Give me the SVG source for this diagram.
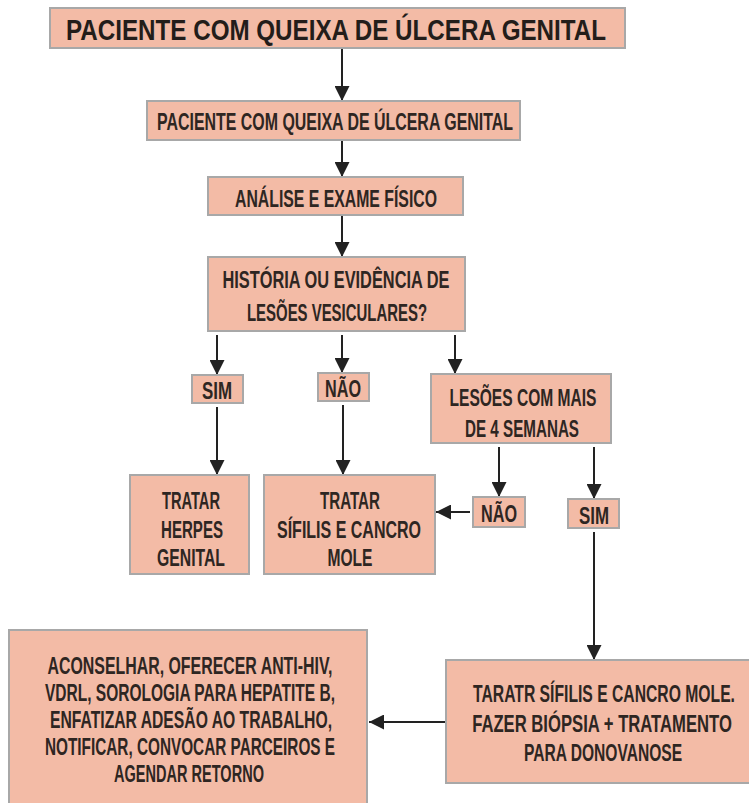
<svg xmlns="http://www.w3.org/2000/svg" width="749" height="803" viewBox="0 0 749 803">
  <defs>
    <marker id="arr" viewBox="0 0 10 10" refX="10" refY="5" markerWidth="8" markerHeight="7.5" markerUnits="strokeWidth" orient="auto">
      <path d="M0,0 L10,5 L0,10 z" fill="#222"/>
    </marker>
    <style>
      .box { fill: #F3BBA6; stroke: #A8A8A8; stroke-width: 2; }
      .t { font-family: "Liberation Sans", Arial, sans-serif; font-size: 24px; font-weight: bold; fill: #2e2622; text-anchor: middle; }
      .title { font-family: "Liberation Sans", Arial, sans-serif; font-size: 29px; font-weight: bold; fill: #231d1a; text-anchor: middle; }
      .edge { stroke: #222; stroke-width: 2; fill: none; marker-end: url(#arr); }
    </style>
  </defs>

  <g id="connectors">
    <line class="edge" x1="342" y1="48" x2="342" y2="101"/>
    <line class="edge" x1="342" y1="140" x2="342" y2="177"/>
    <line class="edge" x1="342" y1="215" x2="342" y2="257"/>
    <line class="edge" x1="217" y1="335" x2="217" y2="375"/>
    <line class="edge" x1="342" y1="335" x2="342" y2="373"/>
    <line class="edge" x1="455" y1="335" x2="455" y2="374"/>
    <line class="edge" x1="217" y1="407" x2="217" y2="475"/>
    <line class="edge" x1="343" y1="405" x2="343" y2="475"/>
    <line class="edge" x1="499" y1="447" x2="499" y2="497"/>
    <line class="edge" x1="594" y1="447" x2="594" y2="499"/>
    <line class="edge" x1="470" y1="512" x2="436" y2="512"/>
    <line class="edge" x1="594" y1="532" x2="594" y2="660"/>
    <line class="edge" x1="446" y1="722" x2="369" y2="722"/>
  </g>

  <g id="n-titulo">
    <rect class="box" x="50" y="8" width="575" height="40"/>
    <text class="title" x="336" y="40" textLength="540" lengthAdjust="spacingAndGlyphs">PACIENTE COM QUEIXA DE ÚLCERA GENITAL</text>
  </g>

  <g id="n-queixa">
    <rect class="box" x="147" y="101" width="373" height="39"/>
    <text class="t" x="335" y="130" textLength="356" lengthAdjust="spacingAndGlyphs">PACIENTE COM QUEIXA DE ÚLCERA GENITAL</text>
  </g>

  <g id="n-exame">
    <rect class="box" x="208" y="177" width="255" height="38"/>
    <text class="t" x="336" y="207" textLength="202" lengthAdjust="spacingAndGlyphs">ANÁLISE E EXAME FÍSICO</text>
  </g>

  <g id="n-vesiculares">
    <rect class="box" x="208" y="257" width="257" height="74"/>
    <text class="t" x="336" y="288" textLength="227" lengthAdjust="spacingAndGlyphs">HISTÓRIA OU EVIDÊNCIA DE</text>
    <text class="t" x="337" y="321" textLength="180" lengthAdjust="spacingAndGlyphs">LESÕES VESICULARES?</text>
  </g>

  <g id="n-sim1">
    <rect class="box" x="192" y="375" width="51" height="28"/>
    <text class="t" x="217" y="399" textLength="30" lengthAdjust="spacingAndGlyphs">SIM</text>
  </g>

  <g id="n-nao1">
    <rect class="box" x="318" y="373" width="51" height="28"/>
    <text class="t" x="343" y="397" textLength="36" lengthAdjust="spacingAndGlyphs">NÃO</text>
  </g>

  <g id="n-semanas">
    <rect class="box" x="431" y="374" width="180" height="69"/>
    <text class="t" x="523" y="406" textLength="147" lengthAdjust="spacingAndGlyphs">LESÕES COM MAIS</text>
    <text class="t" x="522" y="437" textLength="114" lengthAdjust="spacingAndGlyphs">DE 4 SEMANAS</text>
  </g>

  <g id="n-herpes">
    <rect class="box" x="130" y="475" width="119" height="99"/>
    <text class="t" x="191" y="509" textLength="58" lengthAdjust="spacingAndGlyphs">TRATAR</text>
    <text class="t" x="192" y="538" textLength="62" lengthAdjust="spacingAndGlyphs">HERPES</text>
    <text class="t" x="191" y="566" textLength="68" lengthAdjust="spacingAndGlyphs">GENITAL</text>
  </g>

  <g id="n-sifilis">
    <rect class="box" x="264" y="475" width="171" height="99"/>
    <text class="t" x="350" y="509" textLength="60" lengthAdjust="spacingAndGlyphs">TRATAR</text>
    <text class="t" x="349" y="538" textLength="144" lengthAdjust="spacingAndGlyphs">SÍFILIS E CANCRO</text>
    <text class="t" x="350" y="566" textLength="45" lengthAdjust="spacingAndGlyphs">MOLE</text>
  </g>

  <g id="n-nao2">
    <rect class="box" x="473" y="497" width="52" height="30"/>
    <text class="t" x="499" y="522" textLength="36" lengthAdjust="spacingAndGlyphs">NÃO</text>
  </g>

  <g id="n-sim2">
    <rect class="box" x="568" y="499" width="51" height="29"/>
    <text class="t" x="594" y="524" textLength="30" lengthAdjust="spacingAndGlyphs">SIM</text>
  </g>

  <g id="n-aconselhar">
    <rect class="box" x="9" y="630" width="358" height="180"/>
    <text class="t" x="190" y="674" textLength="285" lengthAdjust="spacingAndGlyphs">ACONSELHAR, OFERECER ANTI-HIV,</text>
    <text class="t" x="190" y="701" textLength="290" lengthAdjust="spacingAndGlyphs">VDRL, SOROLOGIA PARA HEPATITE B,</text>
    <text class="t" x="191" y="728" textLength="282" lengthAdjust="spacingAndGlyphs">ENFATIZAR ADESÃO AO TRABALHO,</text>
    <text class="t" x="190" y="755" textLength="290" lengthAdjust="spacingAndGlyphs">NOTIFICAR, CONVOCAR PARCEIROS E</text>
    <text class="t" x="189" y="782" textLength="150" lengthAdjust="spacingAndGlyphs">AGENDAR RETORNO</text>
  </g>

  <g id="n-biopsia">
    <rect class="box" x="446" y="660" width="310" height="123"/>
    <!-- narrow lettering drawn by horizontal scaling so the glyph boxes stay inside the canvas -->
    <text class="t" transform="translate(604 702) scale(0.65 1)" x="0" y="0" textLength="403" lengthAdjust="spacingAndGlyphs">TARATR SÍFILIS E CANCRO MOLE.</text>
    <text class="t" transform="translate(602 732) scale(0.68 1)" x="0" y="0" textLength="382" lengthAdjust="spacingAndGlyphs">FAZER BIÓPSIA + TRATAMENTO</text>
    <text class="t" transform="translate(603 761) scale(0.64 1)" x="0" y="0" textLength="247" lengthAdjust="spacingAndGlyphs">PARA DONOVANOSE</text>
  </g>
</svg>
